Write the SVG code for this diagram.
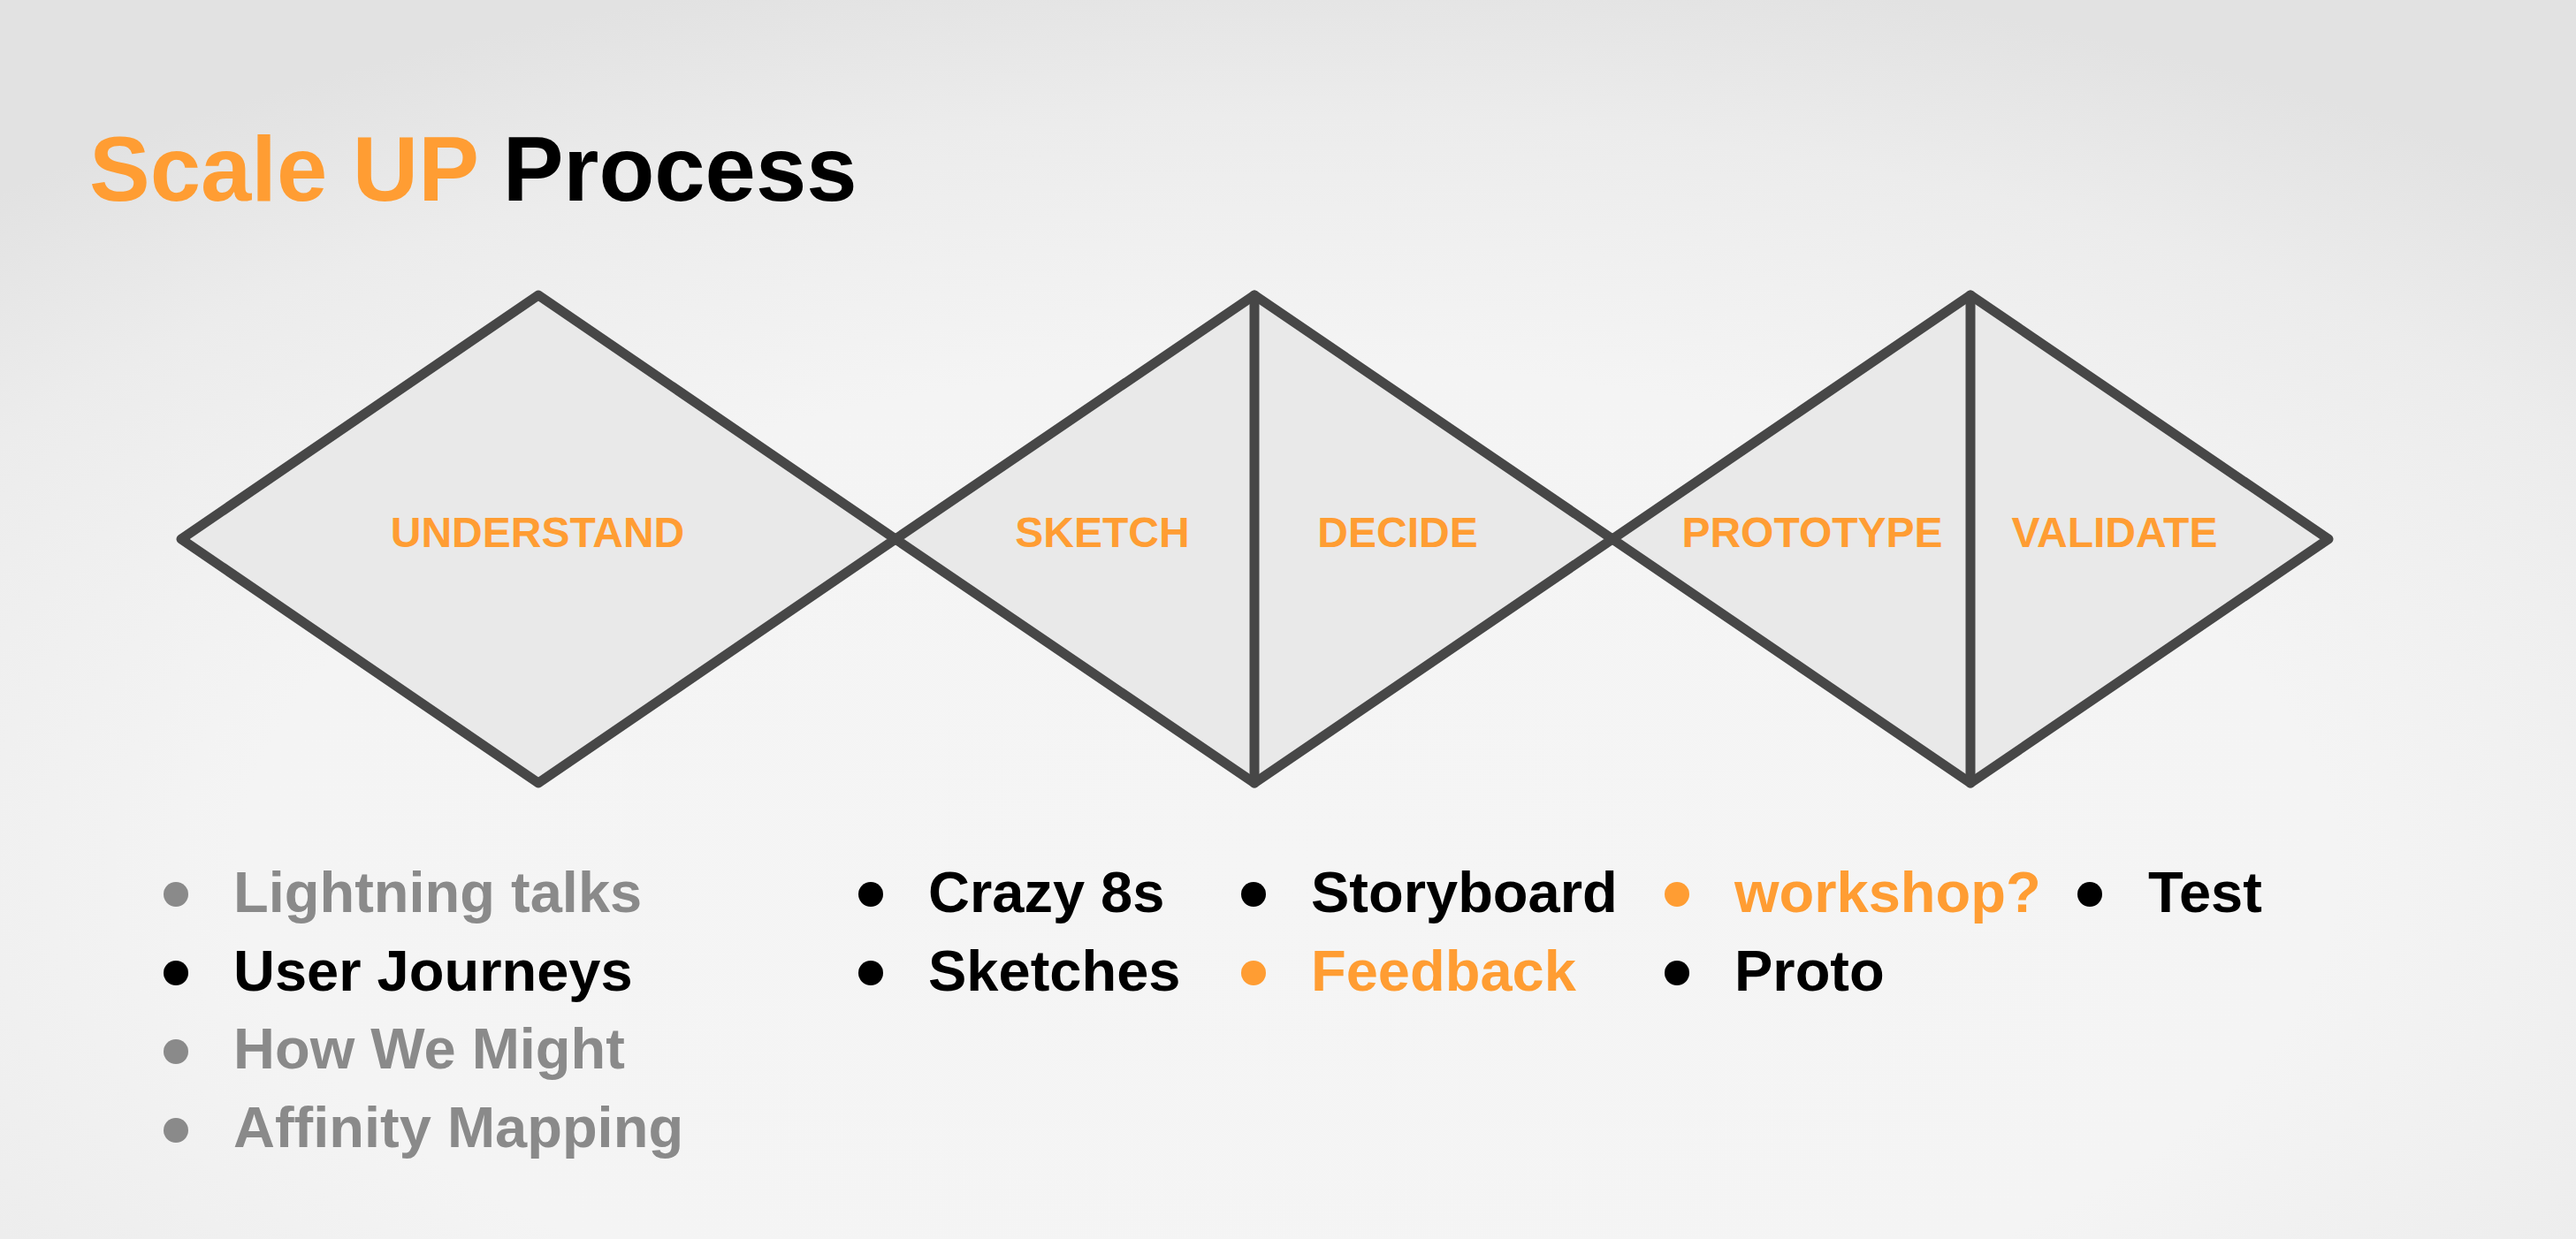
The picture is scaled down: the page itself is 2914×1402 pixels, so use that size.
<svg xmlns="http://www.w3.org/2000/svg" width="2914" height="1402" viewBox="0 0 2914 1402">
  <defs>
    <radialGradient id="bg" cx="0.5" cy="0.7" r="0.74">
      <stop offset="0" stop-color="#f5f5f5"/>
      <stop offset="0.55" stop-color="#f4f4f4"/>
      <stop offset="0.82" stop-color="#ececec"/>
      <stop offset="1" stop-color="#e2e2e2"/>
    </radialGradient>
    <style>
      .shape { fill: #e9e9e9; stroke: #474747; stroke-width: 11; stroke-linejoin: round; }
      .divider { stroke: #474747; stroke-width: 11; stroke-linecap: round; }
      .phase { font-family: "Liberation Sans", Arial, sans-serif; font-weight: bold; font-size: 48px; fill: #ff9d33; text-anchor: middle; }
      .item { font-family: "Liberation Sans", Arial, sans-serif; font-weight: bold; font-size: 65px; }
      .orange { fill: #ff9d33; }
      .black { fill: #000000; }
      .grey { fill: #8a8a8a; }
    </style>
  </defs>

  <!-- backdrop -->
  <rect x="0" y="0" width="2914" height="1402" fill="url(#bg)"/>

  <!-- heading -->
  <g id="title">
    <text x="101" y="227" font-family="'Liberation Sans', Arial, sans-serif" font-weight="bold" font-size="103"><tspan fill="#ff9d33">Scale UP</tspan><tspan fill="#000000"> Process</tspan></text>
  </g>

  <!-- phase diamonds -->
  <g id="understand">
    <polygon class="shape" points="205,610 609,334 1013,610 609,886"/>
    <text class="phase" x="608" y="619">UNDERSTAND</text>
  </g>

  <g id="sketch-decide">
    <polygon class="shape" points="1013,610 1419,334 1824,610 1419,886"/>
    <line class="divider" x1="1419" y1="334" x2="1419" y2="886"/>
    <text class="phase" x="1247" y="619">SKETCH</text>
    <text class="phase" x="1581" y="619">DECIDE</text>
  </g>

  <g id="prototype-validate">
    <polygon class="shape" points="1824,610 2229,334 2634,610 2229,886"/>
    <line class="divider" x1="2229" y1="334" x2="2229" y2="886"/>
    <text class="phase" x="2050" y="619">PROTOTYPE</text>
    <text class="phase" x="2392" y="619">VALIDATE</text>
  </g>

  <!-- activity lists -->
  <g id="list-understand">
    <circle class="grey" cx="199" cy="1012" r="14"/>
    <text class="item grey" x="264" y="1032">Lightning talks</text>
    <circle class="black" cx="199" cy="1101" r="14"/>
    <text class="item black" x="264" y="1121">User Journeys</text>
    <circle class="grey" cx="199" cy="1190" r="14"/>
    <text class="item grey" x="264" y="1209">How We Might</text>
    <circle class="grey" cx="199" cy="1279" r="14"/>
    <text class="item grey" x="264" y="1298">Affinity Mapping</text>
  </g>

  <g id="list-sketch">
    <circle class="black" cx="985" cy="1012" r="14"/>
    <text class="item black" x="1050" y="1032">Crazy 8s</text>
    <circle class="black" cx="985" cy="1101" r="14"/>
    <text class="item black" x="1050" y="1121">Sketches</text>
  </g>

  <g id="list-decide">
    <circle class="black" cx="1418" cy="1012" r="14"/>
    <text class="item black" x="1483" y="1032">Storyboard</text>
    <circle class="orange" cx="1418" cy="1101" r="14"/>
    <text class="item orange" x="1483" y="1121">Feedback</text>
  </g>

  <g id="list-prototype">
    <circle class="orange" cx="1897" cy="1012" r="14"/>
    <text class="item orange" x="1962" y="1032">workshop?</text>
    <circle class="black" cx="1897" cy="1101" r="14"/>
    <text class="item black" x="1962" y="1121">Proto</text>
  </g>

  <g id="list-validate">
    <circle class="black" cx="2364" cy="1012" r="14"/>
    <text class="item black" x="2430" y="1032">Test</text>
  </g>
</svg>
